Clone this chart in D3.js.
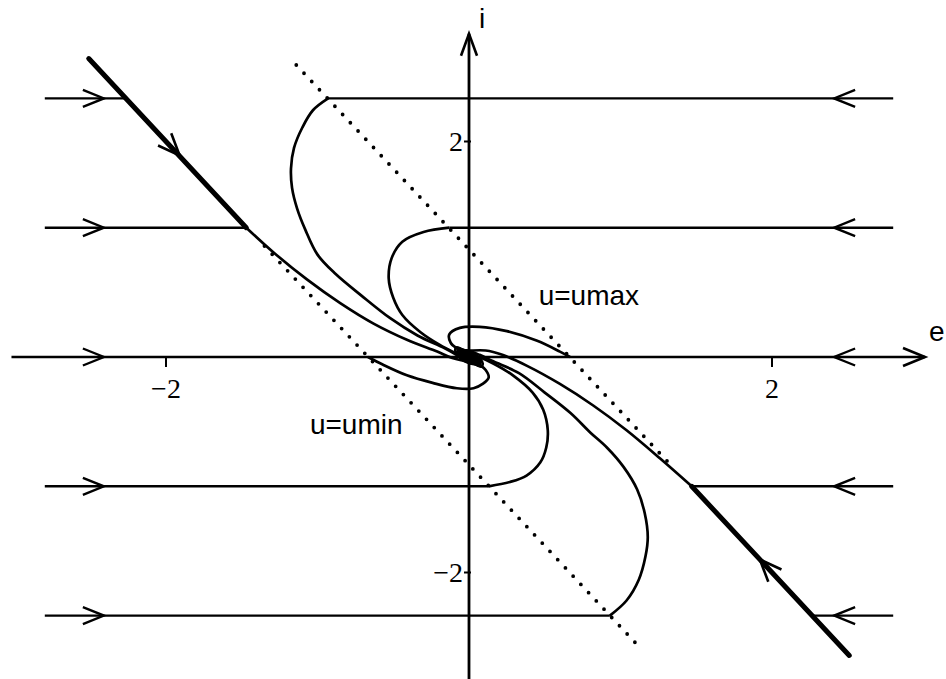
<!DOCTYPE html>
<html>
<head>
<meta charset="utf-8">
<script src="https://cdn.jsdelivr.net/npm/d3@7.9.0/dist/d3.min.js"></script>
<style>
  body { margin: 0; background: #fff; }
  svg { display: block; }
  .lbl { font-family: "Liberation Sans", Arial, sans-serif; font-size: 28px; }
  .num { font-family: "Liberation Serif", "Times New Roman", serif; font-size: 28px; }
</style>
</head>
<body>
<svg width="946" height="679"></svg>
<script>
// horizontal runs (i level, where the left run ends, where the right run ends)
const levels = [2.4, 1.2, -1.2, -2.4];
const leftStop = [-2.27, -1.47, 0.13, 0.93];
const rightStop = [-0.93, -0.13, 1.47, 2.27];
const runEdge = 2.8;
const arrowLevels = [2.4, 1.2, 0, -1.2, -2.4];
const arrowE = 2.41;

// sliding lines (thick) and their arrows
const slideUpper = [[-2.51, 2.77], [-1.47, 1.2]];
const slideLower = [[2.51, -2.77], [1.47, -1.2]];
const slideArrows = [[-1.91, 1.87], [1.92, -1.88]];

// switching lines u=umax / u=umin
const umaxLine = [[-1.14, 2.71], [1.35, -1.03]];
const uminLine = [[-1.35, 1.03], [1.13, -2.70]];

// trajectories into the origin (e, i)
const curve1 = [[-0.93,2.4],[-1.03,2.29],[-1.10,2.13],[-1.155,1.94],[-1.175,1.75],[-1.168,1.57],[-1.135,1.38],[-1.08,1.18],[-1.00,0.95],[-0.88,0.77],[-0.71,0.57],[-0.52,0.36],[-0.34,0.20],[-0.16,0.08],[-0.07,0.01],[0.01,-0.05],[0.06,-0.06],[0.06,-0.02],[0.01,0.04],[-0.05,0.06],[-0.07,0.04],[-0.03,-0.01],[0.03,-0.04],[0.03,-0.01],[-0.01,0.03],[-0.03,0.01],[0,-0.01]];
const curve2 = [[-0.13,1.2],[-0.30,1.16],[-0.44,1.07],[-0.51,0.92],[-0.53,0.73],[-0.50,0.55],[-0.44,0.39],[-0.32,0.23],[-0.19,0.11],[-0.08,0.03],[0,-0.03],[0.05,-0.04],[0.03,0.01],[-0.02,0.06],[-0.06,0.06],[-0.05,0.02],[-0.01,-0.02],[0.02,-0.02],[0.01,0.02],[-0.01,0.01],[0,0]];
const curve3 = [[-1.47,1.2],[-1.29,0.97],[-1.07,0.72],[-0.85,0.50],[-0.63,0.31],[-0.41,0.16],[-0.21,0.05],[-0.11,-0.01],[-0.02,-0.04],[0.03,-0.06],[0.07,-0.05],[0.05,0],[0,0.05],[-0.05,0.06],[-0.07,0.04],[-0.04,-0.01],[0.01,-0.03],[0.02,0],[-0.01,0.02],[-0.01,0]];
const loopR = [[0.667,0],[0.60,0.05],[0.45,0.15],[0.25,0.24],[0.07,0.28],[-0.06,0.27],[-0.13,0.21],[-0.12,0.13],[-0.06,0.06],[0.02,-0.04],[0.08,-0.09],[0.09,-0.06],[0.05,0.01],[-0.03,0.06],[-0.07,0.08],[-0.07,0.05],[-0.03,0],[0.03,-0.05],[0.05,-0.02],[0.01,0.02],[-0.03,0.03],[-0.01,0],[0,-0.01]];
const loopL = [[-0.667,0],[-0.57,-0.07],[-0.41,-0.17],[-0.24,-0.24],[-0.08,-0.29],[0.03,-0.29],[0.09,-0.25],[0.13,-0.19],[0.11,-0.12],[0.06,-0.06],[-0.02,0.04],[-0.08,0.09],[-0.09,0.06],[-0.05,-0.01],[0.03,-0.06],[0.07,-0.08],[0.07,-0.05],[0.03,0],[-0.03,0.05],[-0.05,0.02],[-0.01,-0.02],[0.02,-0.03],[0.01,0],[0,0.01]];
const curveD = [[0.93,-2.4],[1.04,-2.26],[1.12,-2.07],[1.165,-1.85],[1.18,-1.67],[1.16,-1.45],[1.11,-1.23],[1.02,-1.02],[0.91,-0.84],[0.80,-0.70],[0.67,-0.52],[0.50,-0.33],[0.33,-0.15],[0.16,-0.04],[0.07,0.02],[-0.01,0.06],[-0.06,0.06],[-0.06,0.02],[-0.01,-0.04],[0.05,-0.06],[0.07,-0.04],[0.03,0.01],[-0.03,0.04],[-0.03,0.01],[0.01,-0.02],[0.03,-0.01],[0,0.01]];
const curveE = [[0.13,-1.2],[0.27,-1.16],[0.38,-1.10],[0.47,-0.98],[0.51,-0.84],[0.52,-0.68],[0.49,-0.49],[0.42,-0.33],[0.29,-0.17],[0.16,-0.06],[0.05,0.01],[-0.02,0.04],[-0.05,0.04],[-0.04,-0.01],[0.01,-0.06],[0.05,-0.06],[0.05,-0.02],[0.01,0.02],[-0.02,0.02],[-0.01,-0.01],[0.01,-0.01]];
const curveF = [[1.47,-1.2],[1.26,-0.94],[1.04,-0.68],[0.82,-0.45],[0.60,-0.25],[0.38,-0.08],[0.22,0.02],[0.11,0.06],[0.02,0.06],[-0.04,0.05],[-0.07,0.02],[-0.05,-0.02],[-0.01,-0.05],[0.05,-0.06],[0.07,-0.04],[0.04,0.01],[-0.01,0.03],[-0.02,0],[0.01,-0.02],[0,0]];
const curves = [curve1, curve2, curve3, loopR, loopL, curveD, curveE, curveF];

const ticks = [-2, 2];
const eRange = [-3.02, 3.01];
const iRange = [3.0, -3.2];

const svg = d3.select('svg');
const x = d3.scaleLinear().domain([-2, 2]).range([166, 772]);
const y = d3.scaleLinear().domain([-2, 2]).range([572.5, 141.5]);

// open arrow head with its tip at (px, py), pointing along angle a
function chevron(px, py, a, len = 21, w = 8.5) {
  const dx = Math.cos(a), dy = Math.sin(a);
  const bx = px - dx * len, by = py - dy * len;
  return `M${bx - dy * w},${by + dx * w}L${px},${py}L${bx + dy * w},${by - dx * w}`;
}

const g = svg.append('g').attr('fill', 'none').attr('stroke', '#000');

// axes
g.append('line').attr('x1', x(eRange[0])).attr('x2', x(eRange[1]))
  .attr('y1', y(0)).attr('y2', y(0)).attr('stroke-width', 2.6);
g.append('line').attr('x1', x(0)).attr('x2', x(0))
  .attr('y1', y(iRange[0])).attr('y2', y(iRange[1])).attr('stroke-width', 2.8);
g.append('path').attr('d', chevron(x(eRange[1]), y(0), 0, 22, 9)).attr('stroke-width', 2.6);
g.append('path').attr('d', chevron(x(0), y(iRange[0]), -Math.PI / 2, 22, 8)).attr('stroke-width', 2.6);

ticks.forEach(t => {
  g.append('line').attr('x1', x(t)).attr('x2', x(t))
    .attr('y1', y(0)).attr('y2', y(0) + 10).attr('stroke-width', 2);
  g.append('line').attr('x1', x(0) - 5).attr('x2', x(0) + 2)
    .attr('y1', y(t)).attr('y2', y(t)).attr('stroke-width', 2);
  svg.append('text').attr('class', 'num').attr('text-anchor', 'middle')
    .attr('x', x(t)).attr('y', y(0) + 41).text(t < 0 ? '\u2212' + Math.abs(t) : t);
  svg.append('text').attr('class', 'num').attr('text-anchor', 'end')
    .attr('x', x(0) - 6).attr('y', y(t) + 9).text(t < 0 ? '\u2212' + Math.abs(t) : t);
});

// switching lines
[umaxLine, uminLine].forEach(l => {
  g.append('line').attr('x1', x(l[0][0])).attr('y1', y(l[0][1]))
    .attr('x2', x(l[1][0])).attr('y2', y(l[1][1]))
    .attr('stroke-width', 3.8).attr('stroke-linecap', 'round')
    .attr('stroke-dasharray', '0 11.3');
});

// horizontal runs
levels.forEach((lv, k) => {
  g.append('line').attr('x1', x(-runEdge)).attr('x2', x(leftStop[k]))
    .attr('y1', y(lv)).attr('y2', y(lv)).attr('stroke-width', 2.4);
  g.append('line').attr('x1', x(runEdge)).attr('x2', x(rightStop[k]))
    .attr('y1', y(lv)).attr('y2', y(lv)).attr('stroke-width', 2.4);
});
arrowLevels.forEach(lv => {
  g.append('path').attr('d', chevron(x(-arrowE), y(lv), 0)).attr('stroke-width', 2.4);
  g.append('path').attr('d', chevron(x(arrowE), y(lv), Math.PI)).attr('stroke-width', 2.4);
});

// sliding lines
[slideUpper, slideLower].forEach((l, k) => {
  g.append('line').attr('x1', x(l[0][0])).attr('y1', y(l[0][1]))
    .attr('x2', x(l[1][0])).attr('y2', y(l[1][1]))
    .attr('stroke-width', 5).attr('stroke-linecap', 'round');
  const a = Math.atan2(y(l[1][1]) - y(l[0][1]), x(l[1][0]) - x(l[0][0]));
  g.append('path').attr('d', chevron(x(slideArrows[k][0]), y(slideArrows[k][1]), a, 22, 9))
    .attr('stroke-width', 2.6);
});

// trajectories
const line = d3.line().x(d => x(d[0])).y(d => y(d[1])).curve(d3.curveCatmullRom.alpha(0.5));
curves.forEach(c => {
  g.append('path').attr('d', line(c)).attr('stroke-width', 2.7)
    .attr('stroke-linejoin', 'round');
});

// labels
svg.append('text').attr('class', 'lbl').attr('x', x(0) + 10).attr('y', 28).text('i');
svg.append('text').attr('class', 'lbl').attr('x', 929).attr('y', y(0) - 16).text('e');
svg.append('text').attr('class', 'lbl').attr('x', x(0.46)).attr('y', y(0.48)).text('u=umax');
svg.append('text').attr('class', 'lbl').attr('x', x(-1.05)).attr('y', y(-0.71)).text('u=umin');
</script>
</body>
</html>
